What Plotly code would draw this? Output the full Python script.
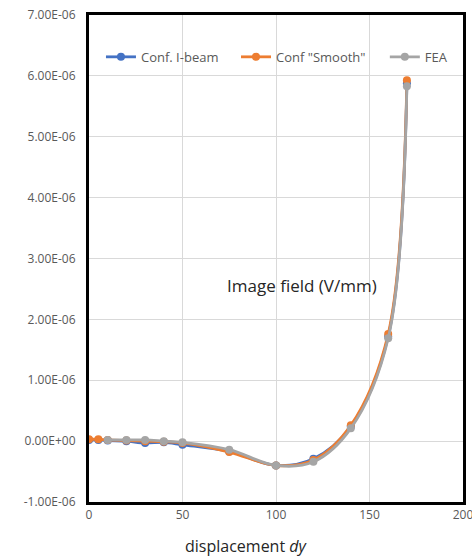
import plotly.graph_objects as go

x_conf = [0, 5, 10, 20, 30, 40, 50, 75, 100, 120, 140, 160, 170]
ibeam = [0.02, 0.02, 0.01, 0.0, -0.03, -0.02, -0.06, -0.17, -0.40, -0.29, 0.24, 1.72, 5.88]
smooth = [0.03, 0.03, 0.02, 0.01, 0.0, -0.01, -0.03, -0.18, -0.40, -0.31, 0.26, 1.76, 5.93]
x_fea = [10, 20, 30, 40, 50, 75, 100, 120, 140, 160, 170]
fea = [0.02, 0.02, 0.02, 0.0, -0.02, -0.14, -0.40, -0.34, 0.21, 1.69, 5.83]

ytickvals = [-1e-6, 0, 1e-6, 2e-6, 3e-6, 4e-6, 5e-6, 6e-6, 7e-6]
yticktext = ["-1.00E-06", "0.00E+00", "1.00E-06", "2.00E-06", "3.00E-06",
             "4.00E-06", "5.00E-06", "6.00E-06", "7.00E-06"]
xtickvals = [0, 50, 100, 150, 200]

scale = 1e-6
fig = go.Figure()
series = [
    ("Conf. I-beam", x_conf, ibeam, "#4472C4", "legend"),
    ("Conf \"Smooth\"", x_conf, smooth, "#ED7D31", "legend2"),
    ("FEA", x_fea, fea, "#A5A5A5", "legend3"),
]
for name, xs, ys, col, lg in series:
    fig.add_trace(go.Scatter(
        x=xs, y=[v * scale for v in ys], name=name, mode="lines+markers",
        line=dict(color=col, width=2.8, shape="spline", smoothing=1.0),
        marker=dict(color=col, size=8), legend=lg,
    ))

fig.add_annotation(x=114, y=2.56e-6, text="Image field (V/mm)", showarrow=False,
                   font=dict(size=17, color="#262626"))
fig.add_annotation(xref="paper", yref="paper", x=0.42, y=-0.09, yanchor="middle",
                   text="displacement <i>dy</i>", showarrow=False,
                   font=dict(size=16, color="#262626"))

legend_common = dict(orientation="h", y=0.914, yanchor="middle", xanchor="left",
                     bgcolor="rgba(0,0,0,0)", font=dict(size=13, color="#595959"))

fig.update_layout(
    width=472, height=556,
    margin=dict(l=89, r=9, t=15, b=54, autoexpand=False),
    paper_bgcolor="white", plot_bgcolor="white",
    font=dict(family="Open Sans, Liberation Sans, sans-serif", size=12, color="#595959"),
    showlegend=True,
    legend=dict(x=0.032, **legend_common),
    legend2=dict(x=0.393, **legend_common),
    legend3=dict(x=0.791, **legend_common),
    xaxis=dict(range=[0, 200], tickvals=xtickvals, showgrid=True, gridcolor="#D9D9D9",
               zeroline=False, showline=True, linecolor="black", linewidth=3, mirror=True,
               ticks="", automargin=False, ticklabeloverflow="allow"),
    yaxis=dict(range=[-1e-6, 7e-6], tickvals=ytickvals, ticktext=yticktext, showgrid=True,
               gridcolor="#D9D9D9", zeroline=False, showline=True, linecolor="black",
               linewidth=3, mirror=True, ticks="", ticklabelstandoff=8, automargin=False,
               ticklabeloverflow="allow"),
)

fig.write_html("out.html", config={"displayModeBar": False},
               post_script="document.body.style.margin='0px';")
